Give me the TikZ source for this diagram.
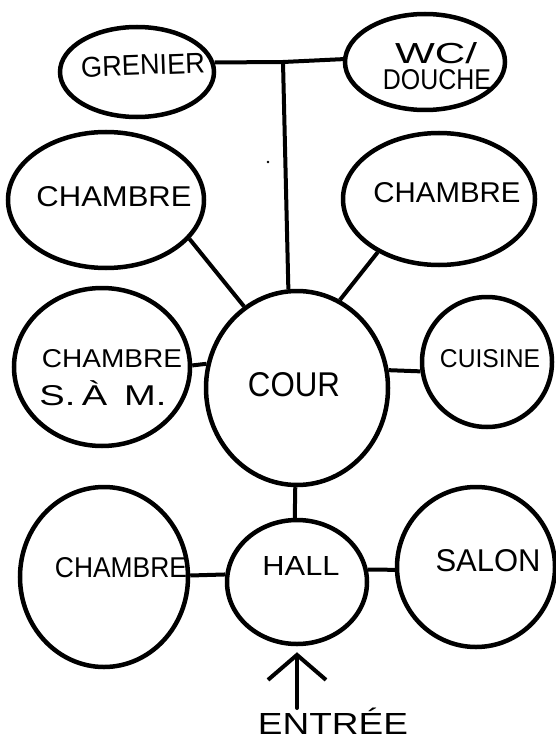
\documentclass[tikz,border=0pt]{standalone}
\usepackage{graphicx}
\usepackage{fontspec}
\setmainfont{Liberation Sans}
\usetikzlibrary{shapes.geometric,arrows.meta}
\newcommand\hw[3]{\resizebox{#1pt}{#2pt}{#3}}
\begin{document}
\begin{tikzpicture}[x=1pt,y=-1pt,
  room/.style={draw, ellipse, line width=4.5pt, inner sep=0pt},
  lbl/.style={inner sep=0pt},
  link/.style={line width=4pt},
  entryarrow/.style={line width=4pt, line cap=round, line join=round,
    -{Straight Barb[length=25pt,width=58pt]}}]
\useasboundingbox (0,0) rectangle (555,741);
\fill[white] (0,0) rectangle (555,741);
% rooms
\node[room, minimum width=154pt, minimum height=90pt]  (grenier) at (137,72) {};
\node[room, minimum width=160pt, minimum height=96pt]  (wc)      at (425,62) {};
\node[room, minimum width=196pt, minimum height=136pt] (chTL)    at (106,200) {};
\node[room, minimum width=192pt, minimum height=132pt] (chTR)    at (439,199) {};
\node[room, minimum width=176pt, minimum height=158pt] (sam)     at (102,367) {};
\node[room, minimum width=182pt, minimum height=194pt] (cour)    at (297,388) {};
\node[room, minimum width=130pt, minimum height=130pt] (cuisine) at (487,362) {};
\node[room, minimum width=168pt, minimum height=180pt] (chBL)    at (104,577) {};
\node[room, minimum width=140pt, minimum height=124pt] (hall)    at (297,582) {};
\node[room, minimum width=158pt, minimum height=160pt] (salon)   at (476,567) {};
% labels
\node[lbl, rotate=2] (grenierT) at (143,65) {\hw{124}{20}{GRENIER}};
\node[lbl] (wcT)      at (436,53)  {\hw{82}{21}{WC/}};
\node[lbl] (doucheT)  at (437,80)  {\hw{108}{20}{DOUCHE}};
\node[lbl] (chtlT)    at (114,197) {\hw{155}{20}{CHAMBRE}};
\node[lbl] (chtrT)    at (447,193) {\hw{147}{20}{CHAMBRE}};
\node[lbl] (samT)     at (112,359) {\hw{140}{18}{CHAMBRE}};
\node[lbl] (samT2)    at (103,396) {\hw{127}{20}{S.\,\smash{À}\, M.}};
\node[lbl] (courT)    at (294,385) {\hw{92}{24}{COUR}};
\node[lbl] (cuisineT) at (490,359) {\hw{100}{18}{CUISINE}};
\node[lbl] (chblT)    at (121,568) {\hw{132}{20}{CHAMBRE}};
\node[lbl] (hallT)    at (301,566) {\hw{77}{19}{HALL}};
\node[lbl] (salonT)   at (488,561) {\hw{105}{22}{SALON}};
\node[lbl] (entree)   at (333,724) {\hw{150}{21}{ENTR\smash{É}E}};
% connectors
\coordinate (j) at (283,62);
\draw[link] (grenier.7) -- (j) -- (wc.178);
\draw[link] (j) -- (cour.95);
\draw[link] (chTL.-25) -- (cour.123);
\draw[link] (chTR.-139) -- (cour.64);
\draw[link] (sam.1) -- (cour.165);
\draw[link] (cour.11) -- (cuisine.188);
\draw[link] (cour.-91) -- (hall.92);
\draw[link] (chBL.1) -- (hall.174);
\draw[link] (hall.10) -- (salon.182);
\coordinate (entS) at (297,708);
\draw[entryarrow, shorten >=6pt] (entS) -- (hall.south);
% speck
\fill (268,162) circle (1.3pt);
\end{tikzpicture}
\end{document}
